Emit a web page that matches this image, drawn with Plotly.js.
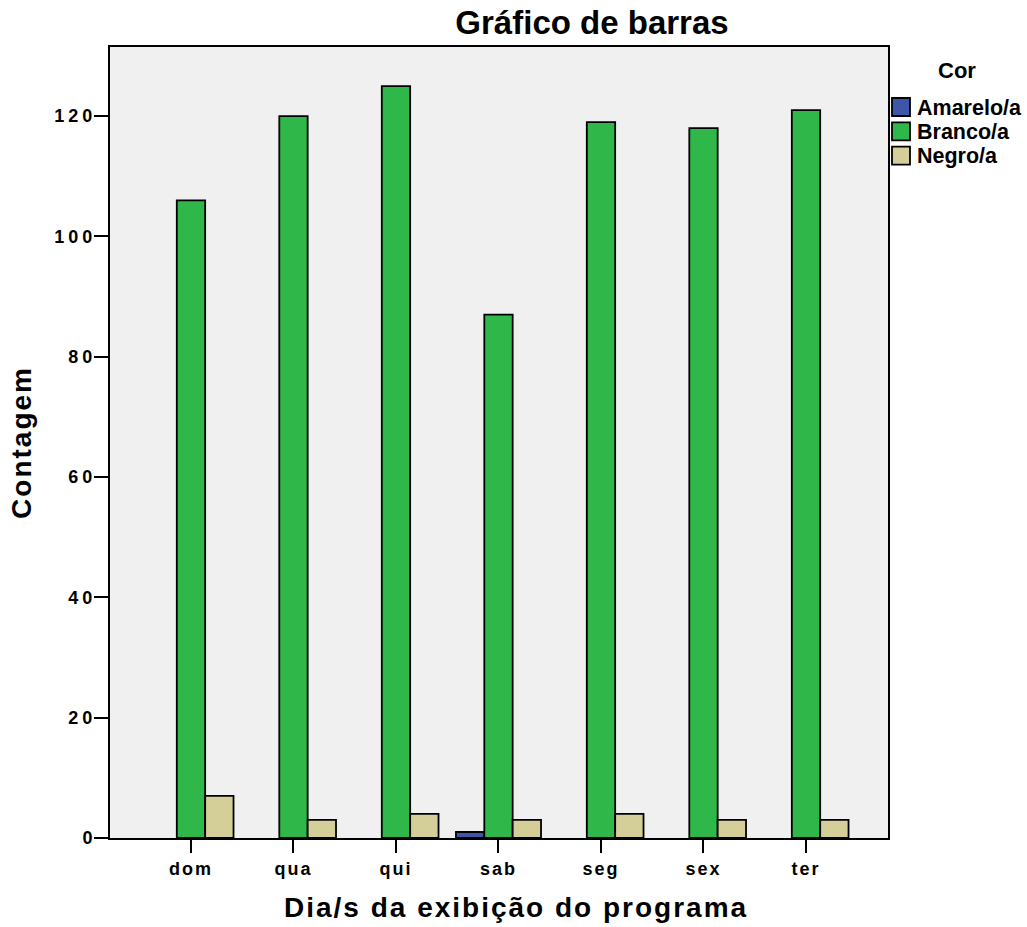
<!DOCTYPE html>
<html>
<head>
<meta charset="utf-8">
<script src="https://cdn.plot.ly/plotly-3.0.1.min.js"></script>
<style>
  html, body { margin:0; padding:0; background:#fff; }
  #chart { width:1027px; height:927px; }
  .ytick text { letter-spacing: 4px; }
  .xtick text { letter-spacing: 2px; }
  .ytitle { letter-spacing: 2px; }
  .annotation[data-index="4"] .annotation-text { letter-spacing: 2px; }
</style>
</head>
<body>
<div id="chart"></div>
<script>
const categories = ["dom", "qua", "qui", "sab", "seg", "sex", "ter"];
const amarelo = [null, null, null, 1, null, null, null];
const branco = [106, 120, 125, 87, 119, 118, 121];
const negro = [7, 3, 4, 3, 4, 3, 3];
const seriesNames = ["Amarelo/a", "Branco/a", "Negro/a"];
const colors = ["#3d56aa", "#2fb849", "#d4cf98"];
const legendTitle = "Cor";

const FONT = "Liberation Sans, Arial, sans-serif";
const seriesValues = [amarelo, branco, negro];

// plot area in pixels
const L = 110, R = 888, T = 47, B = 838, W = 1027, H = 927;
const px2x = p => (p - L) / (R - L);
const px2y = p => (B - p) / (B - T);

const traces = seriesValues.map((vals, i) => ({
  type: "bar",
  name: seriesNames[i],
  x: categories,
  y: vals,
  marker: { color: colors[i], line: { color: "#000", width: 1.8 } },
  hoverinfo: "x+y+name",
  showlegend: false
}));

// manual legend (layout decoration)
const shapes = [];
const annotations = [];
seriesNames.forEach((name, i) => {
  const top = 98 + i * 24.3;
  shapes.push({
    type: "rect", xref: "paper", yref: "paper",
    x0: px2x(892), x1: px2x(910), y0: px2y(top + 18), y1: px2y(top),
    fillcolor: colors[i], line: { color: "#000", width: 1.8 }
  });
  annotations.push({
    text: name, xref: "paper", yref: "paper",
    x: px2x(915), y: px2y(top + 9.5), xanchor: "left", yanchor: "middle",
    showarrow: false,
    font: { family: FONT, size: 21.5, color: "#000", weight: "bold" }
  });
});
annotations.push({
  text: legendTitle, xref: "paper", yref: "paper",
  x: px2x(957), y: px2y(71), xanchor: "center", yanchor: "middle",
  showarrow: false,
  font: { family: FONT, size: 22, color: "#000", weight: "bold" }
});
annotations.push({
  text: "Dia/s da exibição do programa",
  xref: "paper", yref: "paper",
  x: px2x(516), y: px2y(908), yanchor: "middle", xanchor: "center",
  showarrow: false,
  font: { family: FONT, size: 28, color: "#000", weight: "bold" }
});

const layout = {
  width: W, height: H,
  margin: { l: L, r: W - R, t: T, b: H - B, pad: 0 },
  paper_bgcolor: "#ffffff",
  plot_bgcolor: "#f0f0f0",
  barmode: "group",
  bargap: 0.17,
  bargroupgap: 0,
  showlegend: false,
  title: {
    text: "Gráfico de barras",
    font: { family: FONT, size: 33, color: "#000", weight: "bold" },
    x: 592 / W, xanchor: "center", xref: "container",
    y: 1 - 22 / H, yanchor: "middle", yref: "container"
  },
  xaxis: {
    type: "category",
    range: [-0.79, 6.8],
    showline: true, linecolor: "#000", linewidth: 2, mirror: true,
    ticks: "outside", ticklen: 13, tickwidth: 2, tickcolor: "#000",
    tickfont: { family: FONT, size: 18, color: "#000", weight: "bold" },
    showgrid: false, zeroline: false
  },
  yaxis: {
    range: [0, 131.5],
    tickvals: [0, 20, 40, 60, 80, 100, 120],
    showline: true, linecolor: "#000", linewidth: 2, mirror: true,
    ticks: "outside", ticklen: 14, tickwidth: 2, tickcolor: "#000",
    tickfont: { family: FONT, size: 18, color: "#000", weight: "bold" },
    ticklabelstandoff: -6,
    showgrid: false, zeroline: false,
    title: {
      text: "Contagem",
      font: { family: FONT, size: 28, color: "#000", weight: "bold" },
      standoff: 15
    }
  },
  shapes: shapes,
  annotations: annotations
};

Plotly.newPlot("chart", traces, layout, { displayModeBar: false, staticPlot: true });
</script>
</body>
</html>
